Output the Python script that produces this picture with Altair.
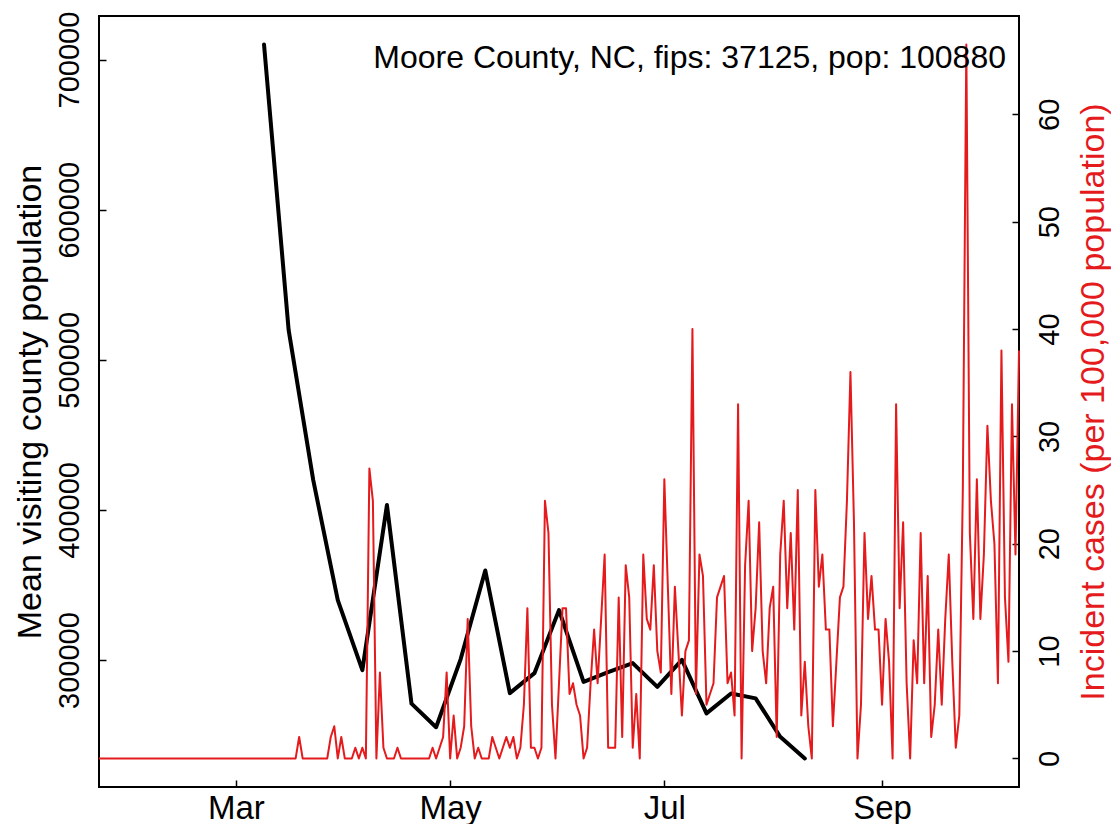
import altair as alt
import pandas as pd

FONT = "Liberation Sans"
FS_X = 33
FS_Y = 29
FS_AXTITLE = 34
FS_TITLE = 32
RED = "#E41A1C"

title_text = "Moore County, NC, fips: 37125, pop: 100880"
left_title = "Mean visiting county population"
right_title = "Incident cases (per 100,000 population)"

# daily incident cases per 100,000 (from 2020-01-22)
red_start = "2020-01-22"
red_values = [
    0, 0, 0, 0, 0, 0, 0, 0, 0, 0,
    0, 0, 0, 0, 0, 0, 0, 0, 0, 0,
    0, 0, 0, 0, 0, 0, 0, 0, 0, 0,
    0, 0, 0, 0, 0, 0, 0, 0, 0, 0,
    0, 0, 0, 0, 0, 0, 0, 0, 0, 0,
    0, 0, 0, 0, 0, 0, 0, 2, 0, 0,
    0, 0, 0, 0, 0, 0, 2, 3, 0, 2,
    0, 0, 0, 1, 0, 1, 0, 27, 24, 0,
    8, 1, 0, 0, 0, 1, 0, 0, 0, 0,
    0, 0, 0, 0, 0, 1, 0, 1, 2, 8,
    0, 4, 0, 1, 3, 13, 3, 0, 1, 0,
    0, 0, 2, 1, 0, 1, 2, 1, 2, 0,
    1, 5, 14, 1, 1, 0, 1, 24, 21, 5,
    0, 7, 14, 14, 6, 7, 5, 4, 0, 1,
    7, 12, 7, 13, 19, 1, 1, 1, 15, 2,
    18, 15, 1, 6, 0, 19, 13, 12, 18, 10,
    8, 26, 16, 6, 16, 10, 4, 10, 11, 40,
    6, 19, 17, 5, 6, 7, 15, 16, 17, 7,
    8, 4, 33, 0, 18, 24, 10, 14, 22, 10,
    7, 14, 16, 2, 19, 24, 14, 21, 12, 25,
    4, 9, 3, 0, 25, 16, 19, 12, 12, 3,
    9, 15, 16, 24, 36, 22, 0, 5, 21, 13,
    17, 12, 12, 5, 13, 9, 0, 33, 14, 22,
    7, 0, 11, 7, 21, 7, 17, 2, 5, 12,
    5, 13, 19, 9, 1, 4, 25, 66.5, 21, 13,
    26, 13, 19, 31, 24, 20, 7, 38, 15, 9,
    33, 19, 38,
]

# weekly mean visiting county population (from 2020-03-09)
black_start = "2020-03-09"
black_values = [
    710000, 520000, 420000, 340000, 293300, 403300, 271000, 255300,
    300700, 359700, 278000, 291300, 333300, 285500, 292000, 298000,
    282200, 300200, 264500, 277800, 274500, 248900, 234500,
]

x_tick_months = [3, 5, 7, 9]
left_ticks = [300000, 400000, 500000, 600000, 700000]
right_ticks = [0, 10, 20, 30, 40, 50, 60]

red_df = pd.DataFrame({
    "date": pd.date_range(red_start, periods=len(red_values), freq="D").strftime("%Y-%m-%d"),
    "cases": red_values,
})
black_df = pd.DataFrame({
    "date": pd.date_range(black_start, periods=len(black_values), freq="7D").strftime("%Y-%m-%d"),
    "pop": black_values,
})
text_df = pd.DataFrame({"label": [title_text]})


def r_range(vals):
    lo, hi = min(vals), max(vals)
    r = hi - lo
    return [lo - 0.04 * r, hi + 0.04 * r]


W, H = 920, 771

x_scale = alt.Scale(
    type="utc",
    domain=[alt.DateTime(year=2020, month=1, date=22, utc=True),
            alt.DateTime(year=2020, month=10, date=10, utc=True)],
)
x_axis = alt.Axis(
    orient="bottom",
    values=[alt.DateTime(year=2020, month=m, date=1, utc=True) for m in x_tick_months],
    labelExpr="utcFormat(datum.value, '%b')", offset=-7, tickSize=7, labelPadding=5,
    labelFontSize=FS_X, labelAngle=0, labelFlush=False, labelOverlap=False, title="",
)

black = alt.Chart(black_df).mark_line(
    color="black", strokeWidth=4, strokeJoin="round", strokeCap="round"
).encode(
    x=alt.X("date:T", scale=x_scale, axis=x_axis),
    y=alt.Y("pop:Q", scale=alt.Scale(domain=r_range(black_values), nice=False, zero=False),
            axis=alt.Axis(orient="left", values=left_ticks, format="d", offset=-7, tickSize=7,
                          labelFontSize=FS_Y, labelAngle=270, labelAlign="center",
                          labelBaseline="bottom", labelPadding=15, labelFlush=False,
                          labelOverlap=False,
                          title=left_title, titleFontSize=FS_AXTITLE, titleAngle=270,
                          titleX=-76, titleY=H / 2,
                          titleAlign="center", titleBaseline="middle")),
)

red = alt.Chart(red_df).mark_line(
    color=RED, strokeWidth=2, strokeJoin="round"
).encode(
    x=alt.X("date:T", scale=x_scale, axis=x_axis),
    y=alt.Y("cases:Q", scale=alt.Scale(domain=r_range(red_values), nice=False, zero=False),
            axis=alt.Axis(orient="right", values=right_ticks, format="d", offset=-7, tickSize=7,
                          labelFontSize=FS_Y, labelAngle=270, labelAlign="center",
                          labelBaseline="top", labelPadding=16, labelFlush=False,
                          labelOverlap=False,
                          title=right_title, titleFontSize=FS_AXTITLE, titleColor=RED,
                          titleAngle=270, titleX=81,
                          titleY=H / 2, titleAlign="center", titleBaseline="middle")),
)

label = alt.Chart(text_df).mark_text(
    align="right", baseline="middle", font=FONT, fontSize=FS_TITLE, color="black"
).encode(
    x=alt.value(907), y=alt.value(42), text="label:N"
)

chart = alt.layer(black, red, label).resolve_scale(y="independent").properties(
    width=W, height=H,
    autosize=alt.AutoSizeParams(type="none"),
    padding={"left": 91, "top": 8, "right": 92, "bottom": 37},
).configure_view(
    stroke="black", strokeWidth=2
).configure_axis(
    grid=False, domain=False, tickColor="black", tickWidth=1.5,
    labelFont=FONT, labelColor="black",
    titleFont=FONT, titleFontWeight="normal",
)

chart.save("out.html", embed_options={"renderer": "svg", "actions": False})
